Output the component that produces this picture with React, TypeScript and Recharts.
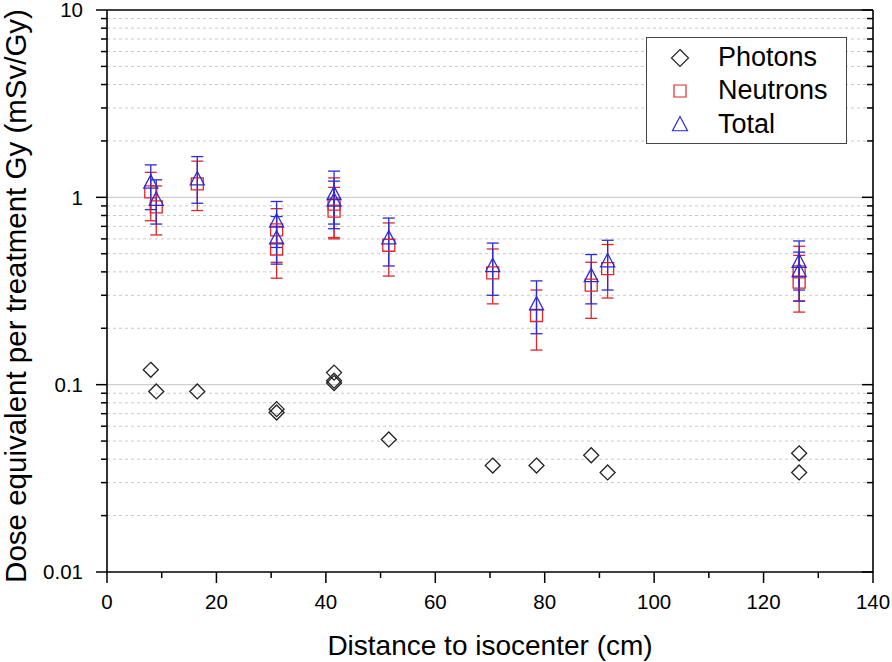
import { ScatterChart, Scatter, XAxis, YAxis, CartesianGrid, ErrorBar } from 'recharts'

const FONT = '"Liberation Sans", Arial, Helvetica, sans-serif'

// photon dose equivalent (mSv/Gy) vs distance to isocenter (cm)
const photonX = [8, 9, 16.5, 31, 31, 41.5, 41.5, 41.5, 51.5, 70.5, 78.5, 88.5, 91.5, 126.5, 126.5]
const photonDose = [0.12, 0.092, 0.092, 0.074, 0.071, 0.116, 0.105, 0.102, 0.051, 0.037, 0.037, 0.042, 0.034, 0.043, 0.034]

// neutron + total points share the same positions
const pointX = [8, 9, 16.5, 31, 31, 41.5, 41.5, 51.5, 70.5, 78.5, 88.5, 91.5, 126.5, 126.5]
const neutronDose = [1.07, 0.89, 1.18, 0.67, 0.53, 0.92, 0.845, 0.555, 0.395, 0.234, 0.34, 0.416, 0.4, 0.353]
const neutronLow = [0.75, 0.63, 0.85, 0.45, 0.37, 0.6, 0.61, 0.38, 0.27, 0.153, 0.226, 0.29, 0.28, 0.244]
const neutronHigh = [1.36, 1.15, 1.56, 0.87, 0.7, 1.27, 1.13, 0.73, 0.53, 0.32, 0.45, 0.56, 0.548, 0.49]
const totalDose = [1.21, 0.98, 1.26, 0.75, 0.61, 1.05, 0.97, 0.61, 0.434, 0.271, 0.383, 0.46, 0.457, 0.408]
const totalLow = [0.86, 0.72, 0.93, 0.54, 0.44, 0.72, 0.68, 0.43, 0.3, 0.187, 0.27, 0.32, 0.32, 0.279]
const totalHigh = [1.49, 1.24, 1.65, 0.95, 0.79, 1.38, 1.22, 0.775, 0.57, 0.358, 0.495, 0.59, 0.585, 0.51]

const xTicks = [0, 10, 20, 30, 40, 50, 60, 70, 80, 90, 100, 110, 120, 130, 140]
const xLabelTicks = [0, 20, 40, 60, 80, 100, 120, 140]
const yMajor = [0.01, 0.1, 1, 10]
const yMajorLabels = ['0.01', '0.1', '1', '10']
const yMinor = [
  0.02, 0.03, 0.04, 0.05, 0.06, 0.07, 0.08, 0.09,
  0.2, 0.3, 0.4, 0.5, 0.6, 0.7, 0.8, 0.9,
  2, 3, 4, 5, 6, 7, 8, 9,
]
const yTicks = [...yMajor, ...yMinor].sort((a, b) => a - b)
const yGridMajor = [0.1, 1]

const series = [
  { name: 'Photons', color: '#222222', shape: 'diamond' },
  { name: 'Neutrons', color: '#e0262b', shape: 'square' },
  { name: 'Total', color: '#2b2bd9', shape: 'triangle' },
]

const photonData = photonX.map((x, i) => ({ x, y: photonDose[i] }))
const neutronData = pointX.map((x, i) => ({
  x, y: neutronDose[i], err: [neutronDose[i] - neutronLow[i], neutronHigh[i] - neutronDose[i]],
}))
const totalData = pointX.map((x, i) => ({
  x, y: totalDose[i], err: [totalDose[i] - totalLow[i], totalHigh[i] - totalDose[i]],
}))

const AXIS = '#000'
const MAJOR = 11
const MINOR = 6

function markerPath(shape: string, cx: number, cy: number, s: number): string {
  if (shape === 'diamond') return `M${cx},${cy - s} L${cx + s},${cy} L${cx},${cy + s} L${cx - s},${cy} Z`
  if (shape === 'square') return `M${cx - s},${cy - s} H${cx + s} V${cy + s} H${cx - s} Z`
  return `M${cx},${cy - s} L${cx + s},${cy + s * 0.9} L${cx - s},${cy + s * 0.9} Z`
}

const shapeSize: Record<string, number> = { diamond: 7.5, square: 6, triangle: 7 }

function marker(idx: number) {
  const s = series[idx]
  return (p: any) => (
    <path d={markerPath(s.shape, p.cx, p.cy, shapeSize[s.shape])} fill="none" stroke={s.color} strokeWidth={1.3} />
  )
}

function BottomTick({ x, y, payload }: any) {
  const major = xLabelTicks.includes(payload.value)
  return (
    <g>
      <line x1={x} x2={x} y1={y} y2={y + (major ? MAJOR : MINOR)} stroke={AXIS} strokeWidth={1.5} />
      {major && (
        <text x={x} y={y + 37} textAnchor="middle" fontSize={20.5} fontFamily={FONT} fill="#000">{payload.value}</text>
      )}
    </g>
  )
}

function TopTick({ x, y, payload }: any) {
  const major = xLabelTicks.includes(payload.value)
  return <line x1={x} x2={x} y1={y} y2={y + (major ? MAJOR : MINOR)} stroke={AXIS} strokeWidth={1.5} />
}

function LeftTick({ x, y, payload }: any) {
  const mi = yMajor.indexOf(payload.value)
  const major = mi >= 0
  return (
    <g>
      <line x1={x - (major ? MAJOR : MINOR)} x2={x} y1={y} y2={y} stroke={AXIS} strokeWidth={1.5} />
      {major && (
        <text x={x - 24} y={y} dy="0.36em" textAnchor="end" fontSize={20.5} fontFamily={FONT} fill="#000">{yMajorLabels[mi]}</text>
      )}
    </g>
  )
}

function RightTick({ x, y, payload }: any) {
  const major = yMajor.includes(payload.value)
  return <line x1={x - (major ? MAJOR : MINOR)} x2={x} y1={y} y2={y} stroke={AXIS} strokeWidth={1.5} />
}

const xTitle = (p: any) => {
  const vb = p.viewBox
  return (
    <text x={vb.x + vb.width / 2} y={655} textAnchor="middle" fontSize={28} fontFamily={FONT} fill="#000">
      Distance to isocenter (cm)
    </text>
  )
}

const yTitle = (p: any) => {
  const vb = p.viewBox
  const cx = 26
  const cy = vb.y + vb.height / 2 + 5
  return (
    <text x={cx} y={cy} transform={`rotate(-90, ${cx}, ${cy})`} textAnchor="middle" fontSize={29.5} fontFamily={FONT} fill="#000">
      Dose equivalent per treatment Gy (mSv/Gy)
    </text>
  )
}

function LegendBox() {
  return (
    <div style={{
      position: 'absolute', left: 646, top: 37, width: 201, height: 107, boxSizing: 'border-box',
      border: '1px solid #444', background: '#fff', fontFamily: FONT, fontSize: 27, color: '#000',
    }}>
      {series.map((s, i) => (
        <div key={s.name} style={{ position: 'absolute', left: 0, top: 3 + i * 33.3, height: 33, width: '100%' }}>
          <svg width={24} height={24} style={{ position: 'absolute', left: 21, top: 4.5 }}>
            <path d={markerPath(s.shape, 12, 12, s.shape === 'diamond' ? 8.5 : s.shape === 'square' ? 6 : 7.5)}
              fill="none" stroke={s.color} strokeWidth={1.2} />
          </svg>
          <span style={{ position: 'absolute', left: 71, top: 0, lineHeight: '33px' }}>{s.name}</span>
        </div>
      ))}
    </div>
  )
}

export default function App() {
  return (
    <div style={{ position: 'relative', width: 892, height: 662, background: '#fff' }}>
      <style>{'body{margin:0}'}</style>
      <ScatterChart width={892} height={662} margin={{ top: 10, right: 19, bottom: 0, left: 0 }}>
        <CartesianGrid vertical={false} horizontalValues={yMinor} stroke="#c8c8c8" strokeDasharray="3 3" />
        <CartesianGrid vertical={false} horizontalValues={yGridMajor} stroke="#cfcfcf" strokeWidth={1.2} />
        <XAxis
          dataKey="x" type="number" domain={[0, 140]} allowDataOverflow ticks={xTicks} interval={0}
          height={90} tickSize={0} tickMargin={0} tickLine={false}
          axisLine={{ stroke: AXIS, strokeWidth: 1.6 }} tick={(p: any) => <BottomTick {...p} />}
          label={xTitle}
        />
        <XAxis
          xAxisId="top" orientation="top" mirror type="number" domain={[0, 140]} allowDataOverflow
          ticks={xTicks} interval={0} tickSize={0} tickMargin={0} tickLine={false}
          axisLine={{ stroke: AXIS, strokeWidth: 1.6 }} tick={(p: any) => <TopTick {...p} />}
        />
        <YAxis
          dataKey="y" type="number" scale="log" domain={[0.01, 10]} allowDataOverflow ticks={yTicks} interval={0}
          width={107} tickSize={0} tickMargin={0} tickLine={false}
          axisLine={{ stroke: AXIS, strokeWidth: 1.6 }} tick={(p: any) => <LeftTick {...p} />}
          label={yTitle}
        />
        <YAxis
          yAxisId="right" orientation="right" mirror type="number" scale="log" domain={[0.01, 10]} allowDataOverflow
          ticks={yTicks} interval={0} tickSize={0} tickMargin={0} tickLine={false}
          axisLine={{ stroke: AXIS, strokeWidth: 1.6 }} tick={(p: any) => <RightTick {...p} />}
        />
        <Scatter name="Photons" data={photonData} shape={marker(0)} isAnimationActive={false} />
        <Scatter name="Neutrons" data={neutronData} shape={marker(1)} isAnimationActive={false}>
          <ErrorBar dataKey="err" direction="y" width={6} stroke={series[1].color} strokeWidth={1.3} isAnimationActive={false} />
        </Scatter>
        <Scatter name="Total" data={totalData} shape={marker(2)} isAnimationActive={false}>
          <ErrorBar dataKey="err" direction="y" width={6} stroke={series[2].color} strokeWidth={1.3} isAnimationActive={false} />
        </Scatter>
      </ScatterChart>
      <LegendBox />
    </div>
  )
}
